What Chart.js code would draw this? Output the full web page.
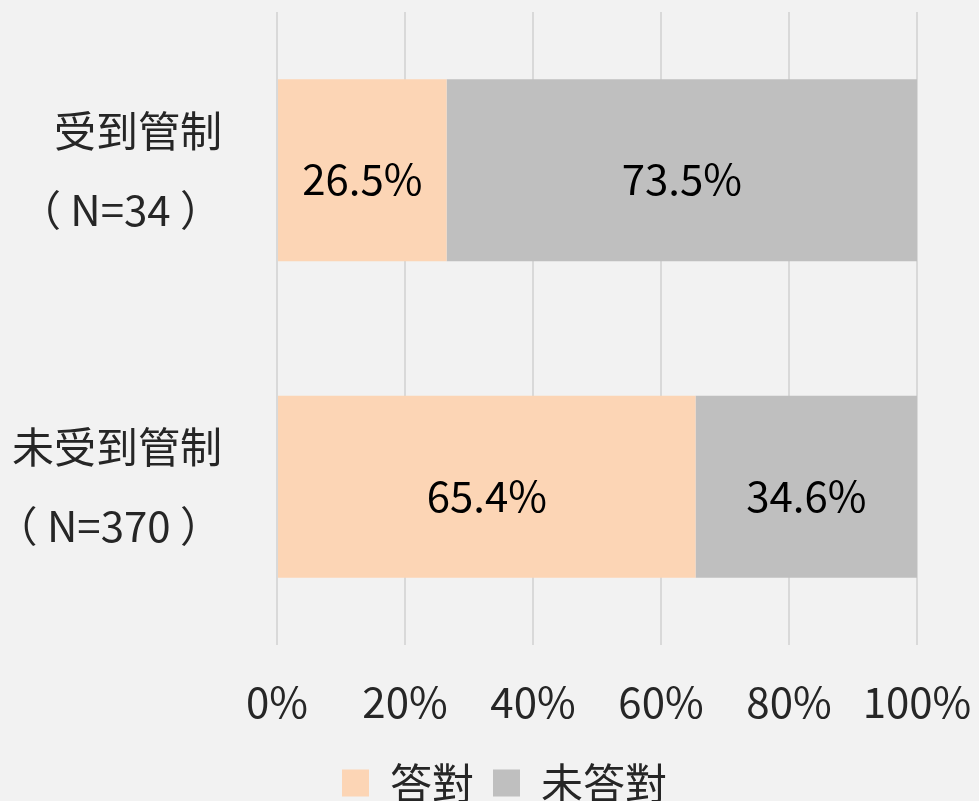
<!DOCTYPE html>
<html>
<head>
<meta charset="utf-8">
<script src="https://cdn.jsdelivr.net/npm/chart.js@4"></script>
<style>
  html, body { margin: 0; padding: 0; background: #f2f2f2; }
  canvas { display: block; }
</style>
</head>
<body>
<canvas id="myChart" width="979" height="801"></canvas>
<script>
// data
const categories = [['受到管制', '（ N=34 ）'], ['未受到管制', '（ N=370 ）']];
const seriesNames = ['答對', '未答對'];
const correctPct = [26.5, 65.4];
const wrongPct = [73.5, 34.6];
const xTicks = [0, 20, 40, 60, 80, 100];

const FONT = "'Noto Sans CJK TC', 'Noto Sans', sans-serif";

// draws the percentage in the middle of every bar segment
const barLabels = {
    id: 'barLabels',
    afterDatasetsDraw(chart) {
        const ctx = chart.ctx;
        ctx.save();
        ctx.font = '42px ' + FONT;
        ctx.fillStyle = '#000';
        ctx.textAlign = 'center';
        ctx.textBaseline = 'middle';
        chart.data.datasets.forEach(function(ds, i){
            chart.getDatasetMeta(i).data.forEach(function(bar, j){
                const p = bar.getCenterPoint();
                ctx.fillText(ds.data[j].toFixed(1) + '%', p.x, p.y + 9);
            });
        });
        ctx.restore();
    }
};

// legend in the reference sits a bit right of the canvas centre
const legendShift = {
    id: 'legendShift',
    afterLayout(chart) {
        chart.legend.left += 46;
        chart.legend.right += 46;
    }
};

// keep the plot area where the reference has it (labels may overhang)
function noPadding(scale){
    scale.paddingTop = 0;
    scale.paddingBottom = 0;
    scale.paddingLeft = 0;
    scale.paddingRight = 0;
}

const ctx = document.getElementById('myChart');
const myChart = new Chart(ctx, {
    type: 'bar',
    data: {
        labels: categories,
        datasets: [{
            label: seriesNames[0],
            data: correctPct,
            backgroundColor: '#fcd5b5',
            barPercentage: 0.575,
            categoryPercentage: 1
        }, {
            label: seriesNames[1],
            data: wrongPct,
            backgroundColor: '#bfbfbf',
            barPercentage: 0.575,
            categoryPercentage: 1
        }]
    },
    plugins: [barLabels, legendShift],
    options: {
        indexAxis: 'y',
        responsive: false,
        animation: false,
        layout: {
            padding: { top: 12, right: 62, left: 0, bottom: -13 }
        },
        font: { family: FONT },
        scales: {
            x: {
                stacked: true,
                min: 0,
                max: 100,
                afterBuildTicks: function(scale){
                    scale.ticks = xTicks.map(function(v){ return {value: v}; });
                },
                afterFit: function(scale){
                    noPadding(scale);
                    scale.height = 98;
                },
                grid: { color: '#d9d9d9', lineWidth: 2, drawTicks: false },
                border: { display: false },
                ticks: {
                    padding: 32,
                    color: '#262626',
                    font: { size: 42, family: FONT },
                    maxRotation: 0,
                    callback: function(v){ return v + '%'; }
                }
            },
            y: {
                stacked: true,
                grid: { display: false, drawTicks: false },
                border: { display: false },
                afterFit: function(scale){
                    noPadding(scale);
                    scale.width = 277;
                },
                ticks: {
                    padding: 55,
                    color: '#262626',
                    font: { size: 42, family: FONT, lineHeight: 1.88 }
                }
            }
        },
        plugins: {
            legend: {
                position: 'bottom',
                labels: {
                    color: '#262626',
                    boxWidth: 27,
                    boxHeight: 27,
                    padding: 19,
                    font: { size: 42, family: FONT }
                }
            },
            tooltip: { enabled: false }
        }
    }
});
</script>
</body>
</html>
